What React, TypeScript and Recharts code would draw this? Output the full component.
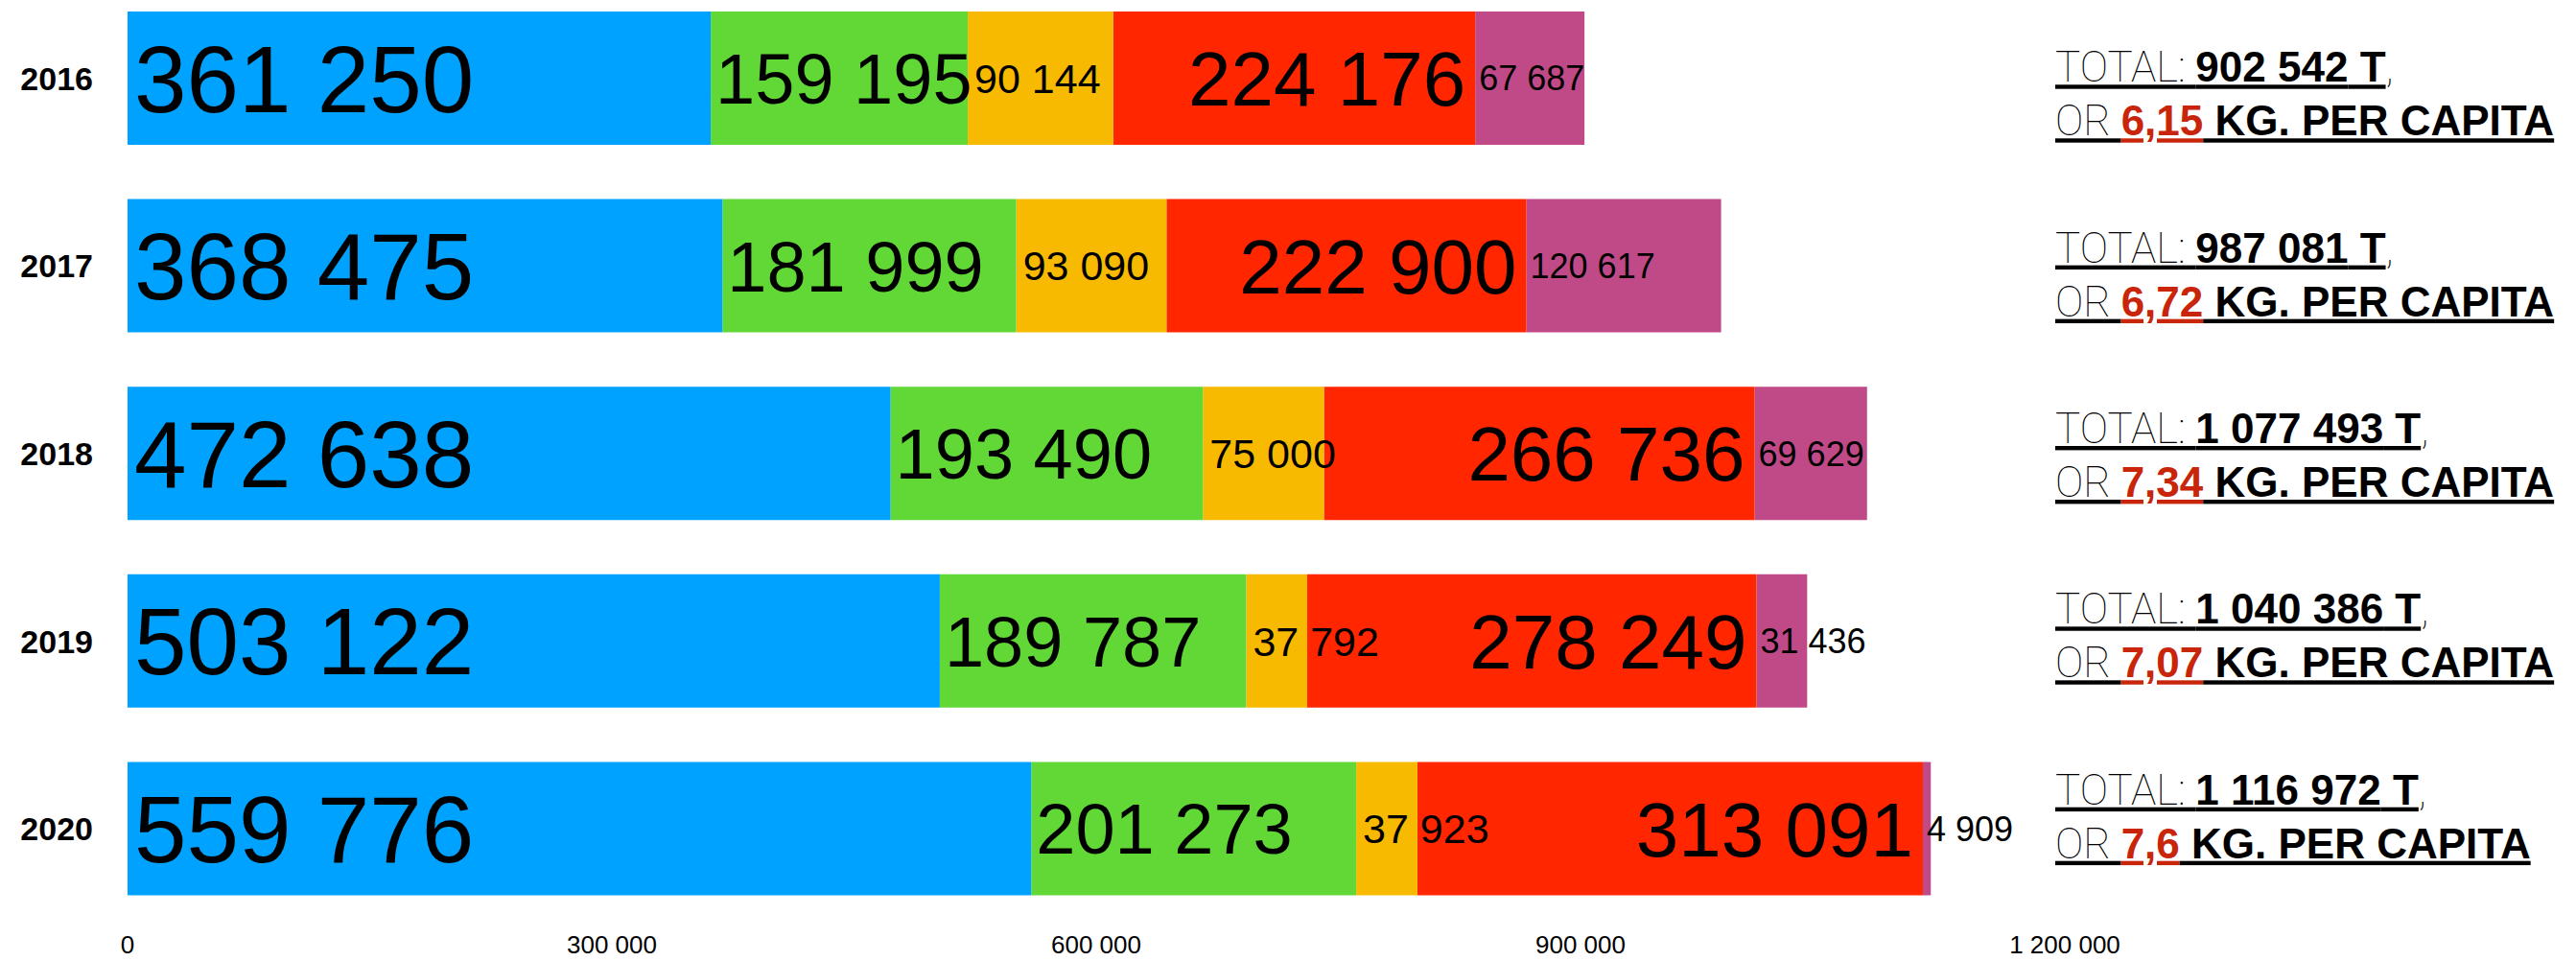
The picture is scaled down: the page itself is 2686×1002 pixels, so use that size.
import { BarChart, Bar, XAxis, YAxis, LabelList } from "recharts";

const years = ["2016", "2017", "2018", "2019", "2020"];

const blueValues = [361250, 368475, 472638, 503122, 559776];
const greenValues = [159195, 181999, 193490, 189787, 201273];
const yellowValues = [90144, 93090, 75000, 37792, 37923];
const redValues = [224176, 222900, 266736, 278249, 313091];
const purpleValues = [67687, 120617, 69629, 31436, 4909];

const totalLabels = ["902 542", "987 081", "1 077 493", "1 040 386", "1 116 972"];
const perCapitaLabels = ["6,15", "6,72", "7,34", "7,07", "7,6"];

const xTicks = [0, 300000, 600000, 900000, 1200000];

const data = years.map((year, i) => ({
  year,
  blue: blueValues[i],
  green: greenValues[i],
  yellow: yellowValues[i],
  red: redValues[i],
  purple: purpleValues[i],
}));

const FONT = "'Liberation Sans', Arial, Helvetica, sans-serif";
const THIN = "Roboto, Lato, 'Open Sans', sans-serif";

const fmt = (n: number) => String(n).replace(/\B(?=(\d{3})+(?!\d))/g, " ");

// listed right-to-left; reverseStackOrder puts blue first, so each label paints over the segment to its right
const series = [
  { key: "purple", color: "#C04A87", values: purpleValues, fontSize: 36, align: "left", inset: 4 },
  { key: "red", color: "#FF2600", values: redValues, fontSize: 80, align: "right", inset: 10 },
  { key: "yellow", color: "#F8BA00", values: yellowValues, fontSize: 43, align: "left", inset: 7 },
  { key: "green", color: "#61D836", values: greenValues, fontSize: 74, align: "left", inset: 5 },
  { key: "blue", color: "#00A2FF", values: blueValues, fontSize: 98, align: "left", inset: 7 },
];

const makeLabel = (s: (typeof series)[number]) => (props: any) => {
  const { x, y, width, height, index } = props;
  const v = s.values[index];
  const tx = s.align === "left" ? x + s.inset : x + width - s.inset;
  return (
    <text
      x={tx}
      y={y + height / 2}
      dy="0.358em"
      textAnchor={s.align === "left" ? "start" : "end"}
      fontSize={s.fontSize}
      fontFamily={FONT}
      fill="#000"
    >
      {fmt(v)}
    </text>
  );
};

const TotalTick = (props: any) => {
  const { x, y, payload } = props;
  const i = years.indexOf(String(payload.value));
  const base = y + 3.5 - 7.25 * i;
  const left = x - 10;
  const thin = { fontFamily: THIN, fontWeight: 100, textDecoration: "underline", whiteSpace: "pre" } as any;
  const bold = { fontFamily: FONT, fontWeight: 700, textDecoration: "underline", whiteSpace: "pre" } as any;
  return (
    <g>
      <text x={left} y={base} fontSize={44} fill="#000">
        <tspan style={thin}>TOTAL: </tspan>
        <tspan style={bold}>{totalLabels[i]} T</tspan>
        <tspan style={thin}>,</tspan>
      </text>
      <text x={left} y={base + 56} fontSize={44} fill="#000">
        <tspan style={thin}>OR </tspan>
        <tspan style={bold} fill="#C8250A">{perCapitaLabels[i]}</tspan>
        <tspan style={bold}> KG. PER CAPITA</tspan>
      </text>
    </g>
  );
};

export default function App() {
  return (
    <div style={{ position: "absolute", left: 0, top: -16, background: "#fff" }}>
      <BarChart
        width={2686}
        height={1018}
        data={data}
        layout="vertical"
        margin={{ top: 0, right: 0, bottom: 0, left: 0 }}
        barSize={139}
        reverseStackOrder
      >
        <XAxis
          type="number"
          domain={[0, 1200000]}
          ticks={xTicks}
          interval={0}
          tickFormatter={fmt}
          axisLine={false}
          tickLine={false}
          tickSize={0}
          tickMargin={14}
          height={40}
          tick={{ fontSize: 26, fill: "#000", fontFamily: FONT }}
        />
        <YAxis
          yAxisId="left"
          type="category"
          dataKey="year"
          width={133}
          axisLine={false}
          tickLine={false}
          tickSize={0}
          tickMargin={36}
          tick={{ fontSize: 34, fontWeight: 700, fill: "#000", fontFamily: FONT }}
        />
        <YAxis
          yAxisId="right"
          orientation="right"
          type="category"
          dataKey="year"
          width={533}
          axisLine={false}
          tickLine={false}
          tickSize={0}
          tickMargin={0}
          tick={(p: any) => <TotalTick {...p} />}
        />
        {series.map((s) => (
          <Bar
            key={s.key}
            yAxisId="left"
            dataKey={s.key}
            stackId="a"
            fill={s.color}
            isAnimationActive={false}
          >
            <LabelList dataKey={s.key} content={makeLabel(s)} />
          </Bar>
        ))}
      </BarChart>
    </div>
  );
}
